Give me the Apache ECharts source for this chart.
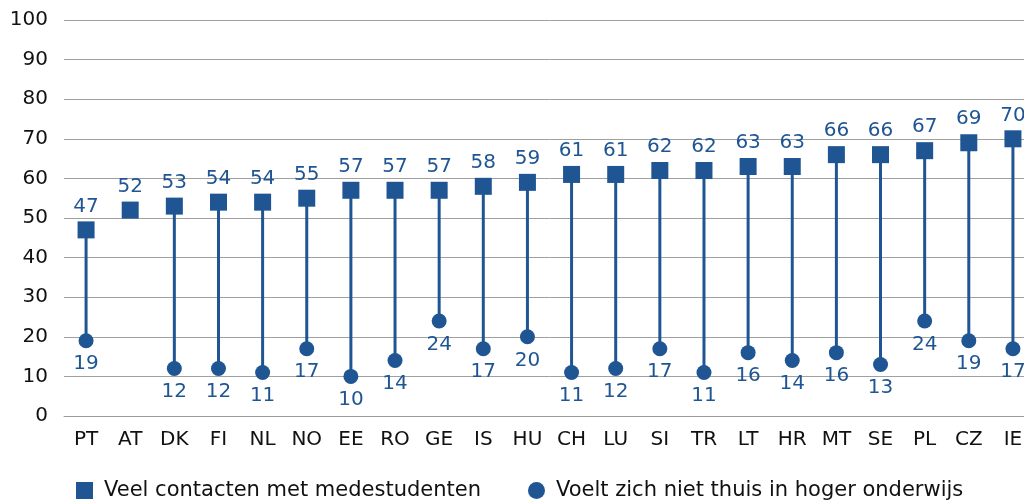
<!DOCTYPE html>
<html>
<head>
<meta charset="utf-8">
<script src="https://cdn.jsdelivr.net/npm/echarts@6/dist/echarts.min.js"></script>
<style>
  html, body { margin: 0; padding: 0; background: #fff; overflow: hidden; }
  #chart { width: 1035px; height: 500px; }
</style>
</head>
<body>
<div id="chart"></div>
<script>
var countries = ["PT", "AT", "DK", "FI", "NL", "NO", "EE", "RO", "GE", "IS", "HU",
  "CH", "LU", "SI", "TR", "LT", "HR", "MT", "SE", "PL", "CZ", "IE"];
var contacten = [47, 52, 53, 54, 54, 55, 57, 57, 57, 58, 59, 61, 61, 62, 62, 63, 63, 66, 66, 67, 69, 70];
var nietThuis = [19, null, 12, 12, 11, 17, 10, 14, 24, 17, 20, 11, 12, 17, 11, 16, 14, 16, 13, 24, 19, 17];
var yTicks = [0, 10, 20, 30, 40, 50, 60, 70, 80, 90, 100];

var blue = "#1f5593";
var font = "DejaVu Sans";

// stacked bars form the drop lines: transparent base up to the circle, thin bar up to the square
var base = nietThuis.slice();
var stem = contacten.map(function (v, i) { return nietThuis[i] == null ? null : v - nietThuis[i]; });

// the chart is a bit wider than the window, so the last column is cut off like in the original
var myChart = echarts.init(document.getElementById("chart"));
var option = {
  backgroundColor: "#fff",
  animation: false,
  textStyle: { fontFamily: font },
  grid: { left: 64, top: 20, right: 0, height: 396 },
  legend: {
    top: 475,
    left: 71,
    itemGap: 47,
    itemWidth: 17,
    itemHeight: 17,
    textStyle: { fontSize: 21, color: "#111", fontFamily: font, padding: [0, 0, 0, 6] },
    data: [
      { name: "Veel contacten met medestudenten", icon: "rect" },
      { name: "Voelt zich niet thuis in hoger onderwijs", icon: "circle" }
    ]
  },
  xAxis: {
    type: "category",
    data: countries,
    axisLine: { lineStyle: { color: "#9a9a9a", width: 1 } },
    axisTick: { show: false },
    axisLabel: { color: "#111", fontSize: 20, margin: 14, fontFamily: font, interval: 0 }
  },
  yAxis: {
    type: "value",
    min: yTicks[0],
    max: yTicks[yTicks.length - 1],
    interval: 10,
    axisLine: { show: false },
    axisTick: { show: false },
    axisLabel: { color: "#111", fontSize: 20, margin: 16, fontFamily: font },
    splitLine: { lineStyle: { color: "#a0a0a0", width: 1 } }
  },
  series: [
    {
      type: "bar",
      stack: "drop",
      data: base,
      barWidth: 3,
      itemStyle: { color: "transparent" },
      silent: true
    },
    {
      type: "bar",
      stack: "drop",
      data: stem,
      barWidth: 3,
      itemStyle: { color: blue },
      silent: true
    },
    {
      name: "Veel contacten met medestudenten",
      type: "scatter",
      data: contacten,
      symbol: "rect",
      symbolSize: 17,
      itemStyle: { color: blue, opacity: 1 },
      label: {
        show: true,
        position: "top",
        distance: 5,
        color: blue,
        fontSize: 20,
        fontFamily: font
      },
      z: 5
    },
    {
      name: "Voelt zich niet thuis in hoger onderwijs",
      type: "scatter",
      data: nietThuis,
      symbol: "circle",
      symbolSize: 15,
      itemStyle: { color: blue, opacity: 1 },
      label: {
        show: true,
        position: "bottom",
        distance: 6,
        color: blue,
        fontSize: 20,
        fontFamily: font
      },
      z: 5
    }
  ]
};
option && myChart.setOption(option);
</script>
</body>
</html>
